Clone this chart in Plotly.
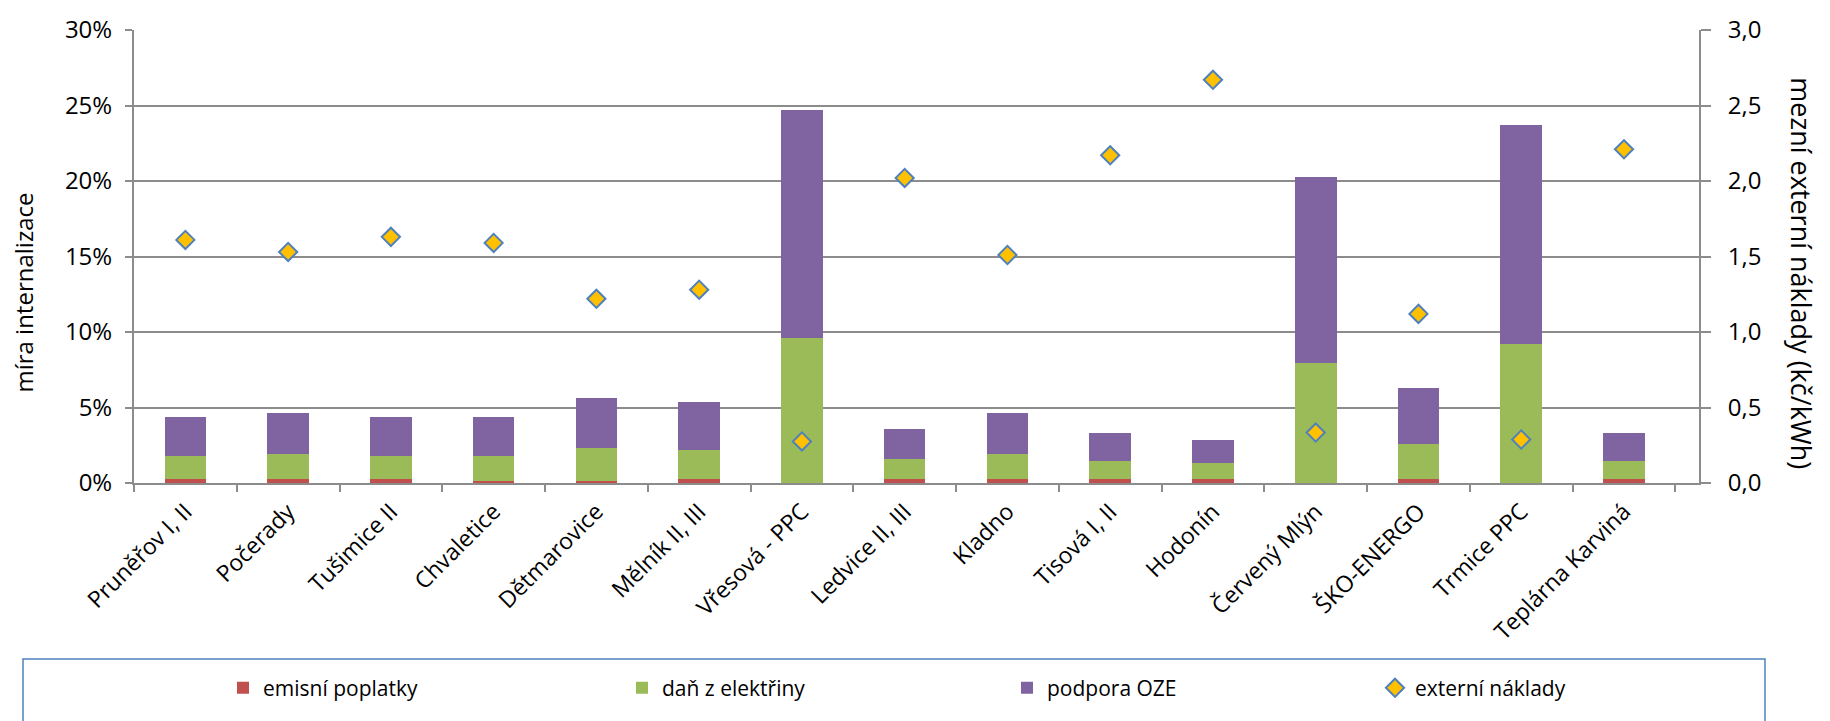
import plotly.graph_objects as go

categories = ["Pruněřov I, II", "Počerady", "Tušimice II", "Chvaletice", "Dětmarovice",
              "Mělník II, III", "Vřesová - PPC", "Ledvice II, III", "Kladno", "Tisová I, II",
              "Hodonín", "Červený Mlýn", "ŠKO-ENERGO", "Trmice PPC", "Teplárna Karviná"]

# míra internalizace (%)
emisni_poplatky = [0.29, 0.29, 0.29, 0.16, 0.16, 0.29, 0.0, 0.29, 0.29, 0.29, 0.29, 0.0, 0.29, 0.0, 0.29]
dan_z_elektriny = [1.53, 1.65, 1.53, 1.66, 2.16, 1.91, 9.59, 1.27, 1.65, 1.14, 1.02, 7.93, 2.29, 9.20, 1.14]
podpora_oze = [2.54, 2.68, 2.54, 2.54, 3.32, 3.18, 15.14, 2.04, 2.68, 1.91, 1.52, 12.34, 3.69, 14.51, 1.91]

# mezní externí náklady (Kč/kWh)
externi_naklady = [1.61, 1.53, 1.63, 1.59, 1.22, 1.28, 0.275, 2.02, 1.51, 2.17, 2.67, 0.334, 1.12, 0.288, 2.21]

y_ticks = [0, 5, 10, 15, 20, 25, 30]
y_ticktext = ["0%", "5%", "10%", "15%", "20%", "25%", "30%"]
y2_ticks = [0, 0.5, 1.0, 1.5, 2.0, 2.5, 3.0]
y2_ticktext = ["0,0", "0,5", "1,0", "1,5", "2,0", "2,5", "3,0"]

FONT = "Open Sans"
GRID = "#8C8C8C"

fig = go.Figure()
fig.add_trace(go.Bar(x=categories, y=emisni_poplatky, name="emisní poplatky",
                     marker=dict(color="#C0504D", line=dict(width=0)), legendwidth=354))
fig.add_trace(go.Bar(x=categories, y=dan_z_elektriny, name="daň z elektřiny",
                     marker=dict(color="#9BBB59", line=dict(width=0)), legendwidth=340))
fig.add_trace(go.Bar(x=categories, y=podpora_oze, name="podpora OZE",
                     marker=dict(color="#8064A2", line=dict(width=0)), legendwidth=323))
fig.add_trace(go.Scatter(x=categories, y=externi_naklady, name="externí náklady", yaxis="y2",
                         mode="markers", legendwidth=200,
                         marker=dict(symbol="diamond", size=14, color="#FFC000",
                                     line=dict(color="#4F81BD", width=2))))

L, R, T, B = 134, 131, 20, 230
W, H = 1830, 721
pw, ph = W - L - R, H - T - B

def px_x(x):
    return (x - L) / pw

def px_y(y):
    return (H - B - y) / ph

fig.update_layout(
    width=W, height=H,
    margin=dict(l=L, r=R, t=T, b=B, pad=0),
    paper_bgcolor="white", plot_bgcolor="white",
    font=dict(family=FONT, size=23, color="#000000"),
    barmode="stack",
    bargap=0.595,
    showlegend=True,
    legend=dict(orientation="h", x=px_x(223), xanchor="left", y=px_y(683), yanchor="top",
                font=dict(family=FONT, size=21, color="#000000"),
                bgcolor="rgba(0,0,0,0)", traceorder="normal"),
    xaxis=dict(range=[-0.5, 14.73], showline=True, linecolor=GRID, linewidth=2,
               ticks="outside", ticklen=7, tickcolor=GRID, tickwidth=2,
               tickson="boundaries", tickangle=-45, ticklabelstandoff=4,
               tickfont=dict(family=FONT, size=23), showgrid=False),
    yaxis=dict(range=[0, 30], tickvals=y_ticks, ticktext=y_ticktext, showline=True,
               linecolor=GRID, linewidth=2, ticks="outside", ticklen=7, tickcolor=GRID,
               tickwidth=2, showgrid=True, gridcolor=GRID, gridwidth=2,
               zeroline=False, tickfont=dict(family=FONT, size=24), ticklabelstandoff=8),
    yaxis2=dict(range=[0, 3], tickvals=y2_ticks, ticktext=y2_ticktext, overlaying="y",
                side="right", showline=True, linecolor=GRID, linewidth=2, ticks="outside",
                ticklen=10, tickcolor=GRID, tickwidth=2, showgrid=False, zeroline=False,
                tickfont=dict(family=FONT, size=24), ticklabelstandoff=12),
    annotations=[
        dict(text="míra internalizace", xref="paper", yref="paper", x=px_x(24), y=px_y(293),
             showarrow=False, textangle=-90, font=dict(family=FONT, size=24, color="#000000"),
             xanchor="center", yanchor="middle"),
        dict(text="mezní externí náklady (kč/kWh)", xref="paper", yref="paper", x=px_x(1802),
             y=px_y(273), showarrow=False, textangle=90,
             font=dict(family=FONT, size=27, color="#000000"), xanchor="center", yanchor="middle"),
    ],
    shapes=[
        dict(type="rect", xref="paper", yref="paper", x0=px_x(23), x1=px_x(1765),
             y0=px_y(674), y1=px_y(760), line=dict(color="#4F81BD", width=1.5),
             fillcolor="rgba(0,0,0,0)", layer="below"),
    ],
)

fig.write_html("out.html")
